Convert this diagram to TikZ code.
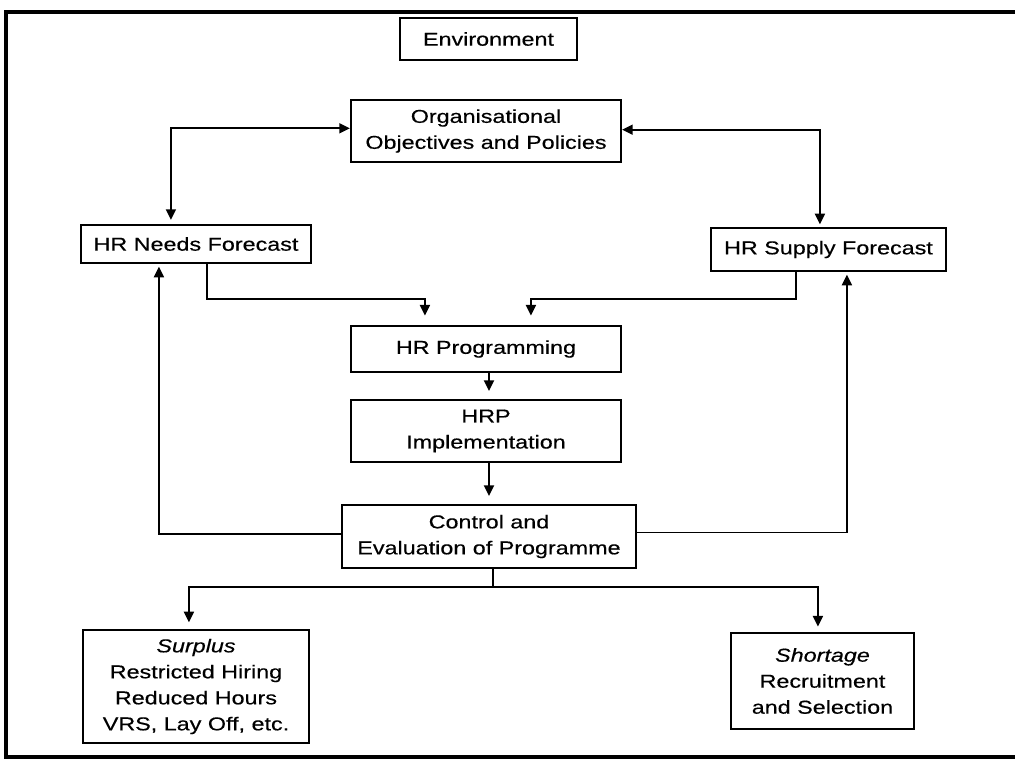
\documentclass[tikz,border=0pt]{standalone}
\usepackage{fontspec}
\setmainfont{Liberation Sans}[FakeStretch=1.25,FakeBold=0.4]
\usetikzlibrary{arrows.meta,calc}
\begin{document}
\begin{tikzpicture}[x=0.75pt,y=-0.75pt,
  box/.style={draw,line width=1.6pt,align=center,inner sep=0pt,
    font=\fontsize{14}{19.5}\selectfont},
  sz/.style 2 args={minimum width=#1*0.75pt,minimum height=#2*0.75pt},
  con/.style={line width=1.4pt},
  arr/.style={con,-{Triangle[length=8pt,width=7.5pt]}},
  darr/.style={con,{Triangle[length=8pt,width=7.5pt]}-{Triangle[length=8pt,width=7.5pt]}}]
\clip (0,0) rectangle (1015,760);
\fill[white] (0,0) rectangle (1015,760);
\draw[line width=2.6pt] (1030,12) -- (6,12) -- (6,757) -- (1030,757);

\node[box,sz={177}{42}] (Env) at (488.5,39) {Environment};
\node[box,sz={270}{62}] (Org) at (486,131) {Organisational\\Objectives and Policies};
\node[box,sz={230}{38}] (Needs) at (196,244) {HR Needs Forecast};
\node[box,sz={235}{43}] (Supply) at (828.5,249.5) {HR Supply Forecast};
\node[box,sz={270}{46}] (Prog) at (486,349) {HR Programming};
\node[box,sz={270}{62}] (HRP) at (486,431) {HRP\\Implementation};
\node[box,sz={294}{63}] (Control) at (489,536.5) {Control and\\Evaluation of Programme};
\node[box,sz={226}{113}] (Surplus) at (196,686.5) {\textit{Surplus}\\Restricted Hiring\\Reduced Hours\\VRS, Lay Off, etc.};
\node[box,sz={183}{96}] (Shortage) at (822.5,681) {\textit{Shortage}\\Recruitment\\and Selection};

\draw[darr,shorten >=3pt] ([yshift=2pt]Org.west) -| ($(Needs.north west)+(91,0)$);
\draw[darr,shorten >=2pt] ([yshift=1pt]Org.east) -| ($(Supply.north west)+(110,0)$);

\draw[arr,shorten >=7pt] ($(Needs.south west)+(127,0)$) |- ($(Prog.north west)+(75,-26)$) -- ($(Prog.north west)+(75,0)$);
\draw[arr,shorten >=7pt] ($(Supply.south west)+(86,0)$) |- ($(Prog.north west)+(181,-26)$) -- ($(Prog.north west)+(181,0)$);

\draw[arr,shorten >=6pt] ($(Prog.south)+(3,0)$) -- ($(HRP.north)+(3,0)$);
\draw[arr,shorten >=6pt] ($(HRP.south)+(3,0)$) -- ($(HRP.south |- Control.north)+(3,0)$);

\draw[arr,shorten >=2pt] ([yshift=2pt]Control.west) -| ($(Needs.south west)+(79,0)$);
\draw[arr,shorten >=2pt] ([yshift=3pt]Control.east) -| ($(Supply.south west)+(137,0)$);

\coordinate (split) at ($(Control.south)+(4,18)$);
\draw[con] ($(Control.south)+(4,0)$) -- (split);
\draw[arr,shorten >=5pt] (split) -| ($(Surplus.north west)+(107,0)$);
\draw[arr,shorten >=4pt] (split) -| ($(Shortage.north west)+(88,0)$);
\end{tikzpicture}
\end{document}
